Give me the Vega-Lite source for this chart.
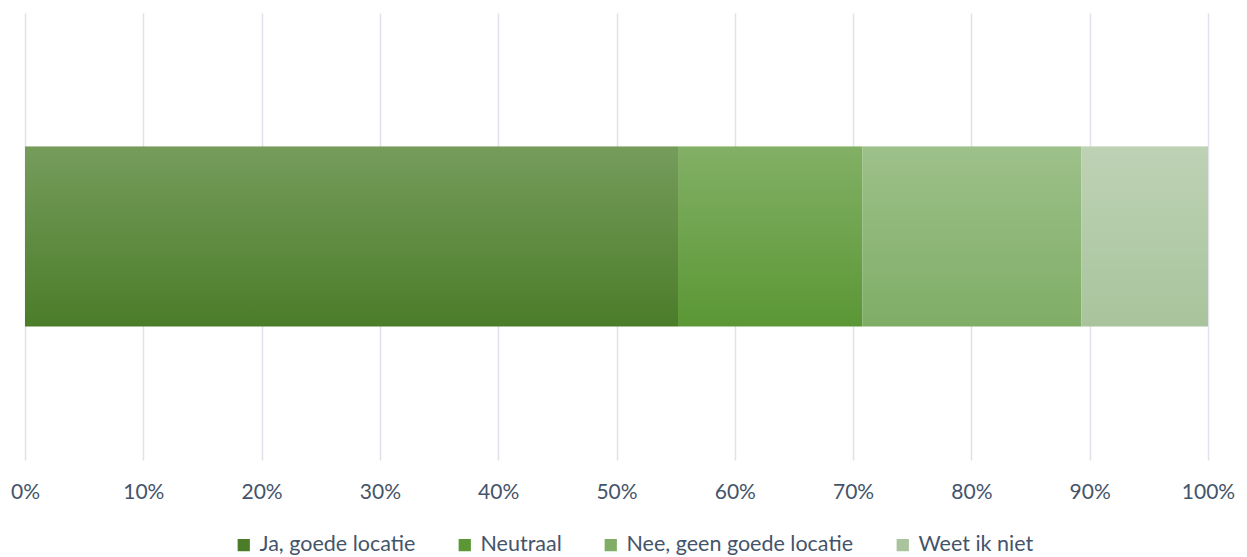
{
  "$schema": "https://vega.github.io/schema/vega-lite/v6.json",
  "width": 1183,
  "height": 447,
  "autosize": {"type": "none"},
  "padding": {"left": 25, "top": 13, "right": 39, "bottom": 97},
  "background": "white",
  "data": {
    "values": [
      {"vraag": "locatie", "antwoord": "Ja, goede locatie", "volgorde": 1, "aandeel": 0.552},
      {"vraag": "locatie", "antwoord": "Neutraal", "volgorde": 2, "aandeel": 0.156},
      {"vraag": "locatie", "antwoord": "Nee, geen goede locatie", "volgorde": 3, "aandeel": 0.185},
      {"vraag": "locatie", "antwoord": "Weet ik niet", "volgorde": 4, "aandeel": 0.107}
    ]
  },
  "encoding": {
    "y": {
      "field": "vraag",
      "type": "nominal",
      "axis": null,
      "scale": {"paddingInner": 0, "paddingOuter": 0.742}
    },
    "x": {
      "field": "aandeel",
      "type": "quantitative",
      "stack": "zero",
      "scale": {"domain": [0, 1], "nice": false},
      "axis": {
        "format": "%",
        "values": [0, 0.1, 0.2, 0.3, 0.4, 0.5, 0.6, 0.7, 0.8, 0.9, 1],
        "title": null,
        "domain": false,
        "ticks": false,
        "grid": true,
        "gridColor": "#dfe2ea",
        "gridWidth": 1.5,
        "labelFlush": false,
        "labelOverlap": false,
        "labelFont": "Lato",
        "labelFontSize": 21,
        "labelColor": "#44546a",
        "labelPadding": 21
      }
    },
    "order": {"field": "volgorde", "type": "quantitative"}
  },
  "layer": [
    {
      "mark": {"type": "bar"},
      "encoding": {
        "color": {
          "field": "antwoord",
          "type": "nominal",
          "sort": ["Ja, goede locatie", "Neutraal", "Nee, geen goede locatie", "Weet ik niet"],
          "scale": {
            "domain": ["Ja, goede locatie", "Neutraal", "Nee, geen goede locatie", "Weet ik niet"],
            "range": ["#4b7d29", "#5b9735", "#7fad66", "#a9c49d"]
          },
          "legend": {
            "title": null,
            "orient": "none",
            "direction": "horizontal",
            "legendX": 208,
            "legendY": 521,
            "symbolType": "square",
            "symbolSize": 150,
            "symbolStrokeWidth": 0,
            "symbolOpacity": 1,
            "labelFont": "Lato",
            "labelFontSize": 21.5,
            "labelColor": "#44546a",
            "labelOffset": 5,
            "columnPadding": 38,
            "labelLimit": 400
          }
        }
      }
    },
    {
      "mark": {
        "type": "bar",
        "color": {
          "gradient": "linear",
          "x1": 0, "y1": 0, "x2": 0, "y2": 1,
          "stops": [
            {"offset": 0, "color": "rgba(255,255,255,0.24)"},
            {"offset": 1, "color": "rgba(255,255,255,0)"}
          ]
        }
      },
      "encoding": {
        "detail": {"field": "antwoord", "type": "nominal"}
      }
    }
  ],
  "config": {"view": {"stroke": null}}
}
